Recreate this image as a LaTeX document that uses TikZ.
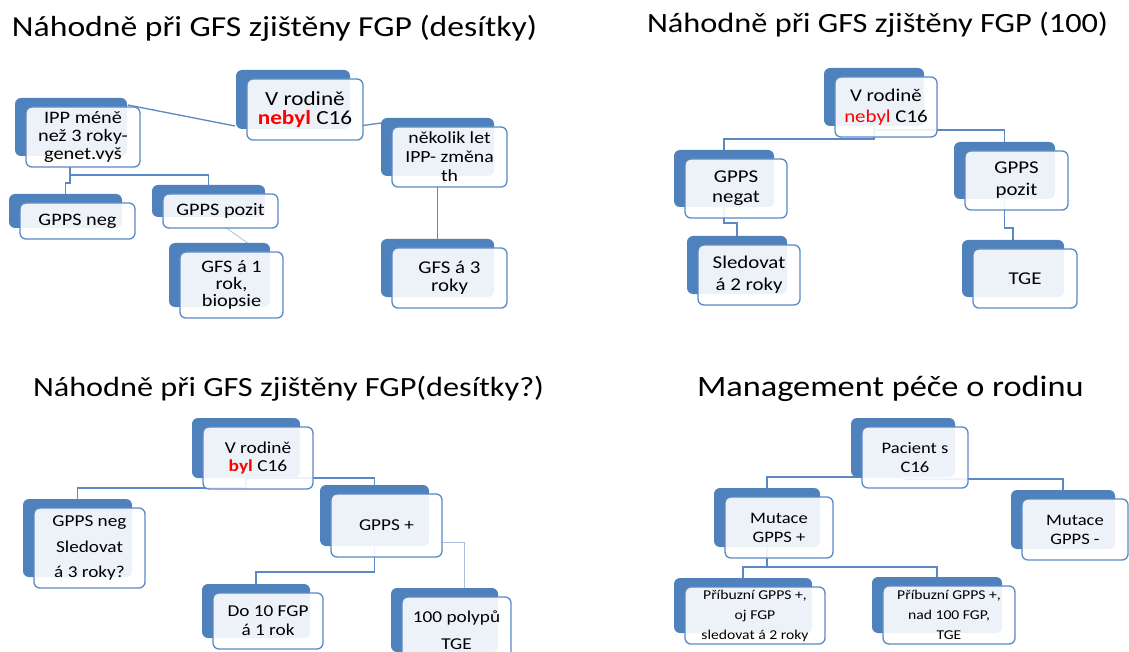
\documentclass[tikz,border=0pt]{standalone}
\usepackage{fontspec}
\setmainfont{Carlito}[FakeStretch=1.16]
\usetikzlibrary{calc}

\definecolor{accent}{HTML}{4F81BD}
\definecolor{edge}{HTML}{5A89C5}
\definecolor{thinedge}{HTML}{A9BFDE}
\definecolor{hot}{HTML}{FF0000}

\pgfdeclarelayer{canvas}
\pgfdeclarelayer{links}
\pgfsetlayers{canvas,links,main}

\tikzset{
  backcard/.style={fill=accent, draw=none, rounded corners=6pt, inner sep=0pt, outer sep=0pt},
  card/.style={draw=edge, line width=1.3pt, fill=white, fill opacity=0.9, text opacity=1,
    rounded corners=6pt, inner sep=0pt, outer sep=0pt, align=center},
  conn/.style={draw=edge, line width=1.3pt},
  thinconn/.style={draw=thinedge, line width=0.8pt},
  heading/.style={anchor=base west, inner sep=0pt, outer sep=0pt},
  fs/.style 2 args={font=\fontsize{#1}{#2}\selectfont}
}

% \card[options]{name}{x1}{y1}{x2}{y2}{text}: front card with its blue back plate
\newcommand\card[7][]{%
  \node[backcard, anchor=north west,
        minimum width={(#5-#3-2)*1pt}, minimum height={(#6-#4-2)*1pt}]
        (#2b) at (#3-11,#4-9) {};
  \node[card, anchor=north west,
        minimum width={(#5-#3)*1pt}, minimum height={(#6-#4)*1pt}, #1]
        (#2) at (#3,#4) {#7};
}

\begin{document}
\begin{tikzpicture}[x=1pt,y=-1pt]
\begin{pgfonlayer}{canvas}
  \fill[white] (0,0) rectangle (1129,652);
\end{pgfonlayer}
\useasboundingbox (0,0) rectangle (1129,652);

% headings
\node[heading, fs={29}{34}] (t1) at (12,37) {Náhodně při GFS zjištěny FGP (desítky)};
\node[heading, fs={27.9}{34}] (t2) at (647,33) {Náhodně při GFS zjištěny FGP (100)};
\node[heading, fs={27.8}{34}] (t3) at (33,396) {Náhodně při GFS zjištěny FGP(desítky?)};
\node[heading, fs={29.6}{34}] (t4) at (697,396) {Management péče o rodinu};

% first tree
\card[fs={20}{19}]{q1root}{247}{79}{363}{140}{V rodině\\\textcolor{hot}{\bfseries nebyl} C16}
\card[fs={17.5}{17.7}]{q1a}{26}{107}{140}{167}{IPP méně\\než 3 roky-\\genet.vyš}
\card[fs={17.5}{18}]{q1b}{20}{203}{135}{239}{GPPS neg}
\card[fs={17.5}{18}]{q1c}{163}{194}{278}{228}{GPPS pozit}
\card[fs={17.5}{17}]{q1d}{180}{252}{283}{318}{GFS á 1\\rok,\\biopsie}
\card[fs={17}{19}]{q1e}{392}{127}{507}{187}{několik let\\IPP- změna\\th}
\card[fs={18}{18}]{q1f}{392}{248}{507}{308}{GFS á 3\\roky}

% second tree
\card[fs={18}{21}]{q2root}{835}{77}{937}{137}{V rodině\\\textcolor{hot}{nebyl} C16}
\card[fs={18}{20}]{q2a}{685}{159}{787}{218}{GPPS\\negat}
\card[fs={18}{22}]{q2b}{698}{245}{800}{305}{Sledovat\\á 2 roky}
\card[fs={18}{22}]{q2c}{965}{151}{1068}{210}{GPPS\\pozit}
\card[fs={18}{22}]{q2d}{973}{249}{1077}{308}{TGE}

% third tree
\card[fs={16.7}{18}]{q3root}{203}{427}{313}{489}{V rodině\\\textcolor{hot}{\bfseries byl} C16}
\card[fs={16.6}{25.5}]{q3a}{34}{508}{145}{588}{GPPS neg\\Sledovat\\á 3 roky?}
\card[fs={16.6}{20}]{q3b}{331}{494}{442}{557}{GPPS +}
\card[fs={16.6}{19}]{q3c}{213}{593}{323}{649}{Do 10 FGP\\á 1 rok}
\card[fs={16.6}{27}]{q3d}{402}{597}{511}{663}{100 polypů\\TGE}

% fourth tree
\card[fs={16}{19}]{q4root}{862}{427}{968}{488}{Pacient s\\C16}
\card[fs={16}{19}]{q4a}{725}{497}{833}{558}{Mutace\\GPPS +}
\card[fs={16}{19}]{q4b}{1022}{499}{1128}{560}{Mutace\\GPPS -}
\card[fs={13.5}{20}]{q4c}{685}{587}{825}{644}{Příbuzní GPPS +,\\oj FGP\\sledovat á 2 roky}
\card[fs={13.5}{20}]{q4d}{883}{586}{1015}{644}{Příbuzní GPPS +,\\nad 100 FGP,\\TGE}

\begin{pgfonlayer}{links}
  % first tree
  \draw[conn] ($(q1ab.north east)+(1,7)$) -- ($(q1rootb.south west)+(-1,-3)$);
  \draw[conn] ($(q1root.east)+(0,16)$) -- ($(q1eb.north west)+(0,5)$);
  \draw[conn] ($(q1a.south)+(-13,0)$) -- ++(0,8) -| (q1cb.north);
  \draw[conn] ($(q1a.south)+(-13,8)$) -- ++(0,8) -| (q1bb.north);
  \draw[thinconn] ($(q1c.south)+(6,0)$) -- ($(q1db.north)+(28,0)$);
  \draw[conn] (q1e.south -| q1fb.north) -- (q1fb.north);
  % second tree
  \draw[conn] (q2rootb.south) -- ++(0,13) -| (q2ab.north);
  \draw[conn] ($(q2rootb.south)+(0,4)$) -| (q2cb.north);
  \draw[conn] (q2ab.south) -- ++(0,16) -| (q2bb.north);
  \draw[conn] (q2cb.south) -- ++(0,29) -| (q2db.north);
  % third tree
  \draw[conn] (q3rootb.south) -- ++(0,10) -| (q3ab.north);
  \draw[conn] (q3rootb.south) -| (q3bb.north);
  \draw[conn] (q3bb.south) -- ++(0,26) -| (q3cb.north);
  \draw[thinconn] ($(q3b.east)+(-5,17)$) -| ($(q3db.north)+(20,0)$);
  % fourth tree
  \draw[conn] (q4rootb.south) -| (q4ab.north);
  \draw[conn] ($(q4rootb.south)+(0,2)$) -| (q4bb.north);
  \draw[conn] (q4ab.south) -- ++(0,20) -| (q4cb.north);
  \draw[conn] (q4ab.south) -- ++(0,20) -| (q4db.north);
\end{pgfonlayer}
\end{tikzpicture}
\end{document}
